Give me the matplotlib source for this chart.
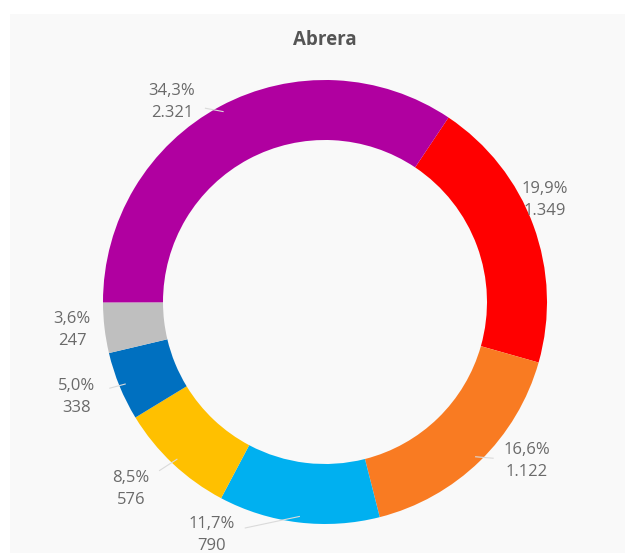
import numpy as np
import matplotlib.pyplot as plt
from matplotlib.patches import Rectangle

plt.rcParams['font.family'] = ['Open Sans', 'DejaVu Sans']

# data (clockwise, starting with the red slice)
categories = ['red', 'orange', 'light blue', 'yellow', 'blue', 'grey', 'purple']
values = [1349, 1122, 790, 576, 338, 247, 2321]
pct_labels = ['19,9%', '16,6%', '11,7%', '8,5%', '5,0%', '3,6%', '34,3%']
val_labels = ['1.349', '1.122', '790', '576', '338', '247', '2.321']
colors = ['#FF0000', '#F97B22', '#00B0F0', '#FFC000', '#0070C0', '#BFBFBF', '#B000A0']

# layout (pixel coords, y measured from top)
W, H = 625, 553
cx, cy = 325, 302
r_out, r_in = 222, 162
label_pos = [(545, 200), (527, 461), (212, 535), (131, 489), (77, 397), (72, 330), (172, 102)]

fig = plt.figure(figsize=(W / 100, H / 100), dpi=100, facecolor='white')
ax = fig.add_axes([0, 0, 1, 1])
ax.add_patch(Rectangle((10, 0), W, H - 14, facecolor='#F9F9F9', edgecolor='none', zorder=0))

wedges, _ = ax.pie(values, colors=colors, startangle=56.2, counterclock=False,
                   radius=r_out, center=(cx, H - cy),
                   wedgeprops=dict(width=r_out - r_in, edgecolor='none', zorder=2))

for w, (lx, ly), p, v in zip(wedges, label_pos, pct_labels, val_labels):
    mid = np.deg2rad((w.theta1 + w.theta2) / 2)
    px = cx + (r_out - 6) * np.cos(mid)
    py = (H - cy) + (r_out - 6) * np.sin(mid)
    tx, ty = lx, H - ly
    d = np.hypot(px - tx, py - ty)
    if d > 45:
        ex = tx + (px - tx) * 34 / d
        ey = ty + (py - ty) * 34 / d
        ax.plot([px, ex], [py, ey], color='#DADADA', lw=0.8, zorder=3)
    ax.text(tx, ty, f'{p}\n{v}', ha='center', va='center', fontsize=12,
            color='#6A6A6A', linespacing=1.5, zorder=4)

ax.text(cx, H - 40, 'Abrera', ha='center', va='center', fontsize=13.5,
        fontweight='bold', color='#555555')

ax.set_xlim(0, W)
ax.set_ylim(0, H)
ax.set_aspect('equal')
ax.axis('off')

fig.savefig('out.png', dpi=100, facecolor='white')
